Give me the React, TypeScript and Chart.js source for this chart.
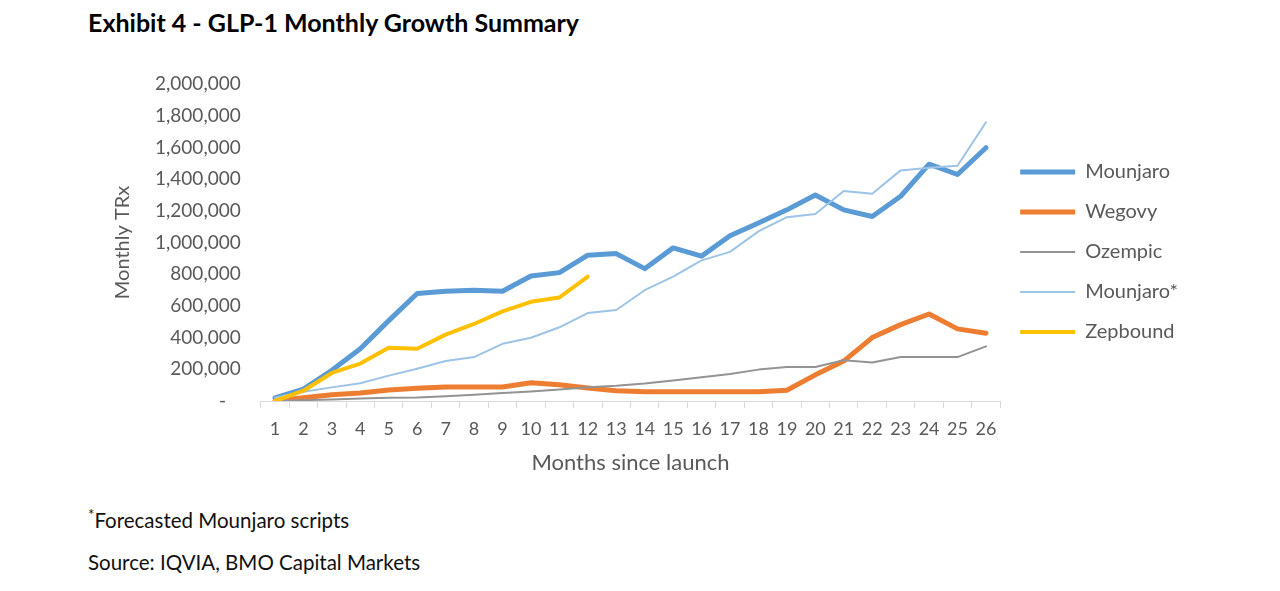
import React, { useEffect, useRef } from 'react';
import { Chart, registerables } from 'chart.js';

Chart.register(...registerables);

const months = ['1','2','3','4','5','6','7','8','9','10','11','12','13','14','15','16','17','18','19','20','21','22','23','24','25','26'];

const mounjaro = [20000, 75000, 194000, 330000, 507000, 678000, 692000, 699000, 692000, 789000, 810000, 920000, 930000, 835000, 966000, 914000, 1043000, 1123000, 1206000, 1300000, 1206000, 1164000, 1292000, 1494000, 1429000, 1598000];
const wegovy = [0, 20000, 40000, 50000, 70000, 80000, 88000, 88000, 88000, 115000, 103000, 82000, 65000, 58000, 58000, 58000, 58000, 58000, 68000, 165000, 252000, 400000, 482000, 549000, 455000, 428000];
const ozempic = [0, 5000, 10000, 15000, 20000, 22000, 30000, 40000, 50000, 60000, 72000, 86000, 96000, 110000, 130000, 150000, 170000, 198000, 215000, 215000, 257000, 243000, 277000, 277000, 277000, 345000];
const mounjaroForecast = [20000, 58000, 86000, 112000, 160000, 204000, 252000, 277000, 361000, 399000, 465000, 555000, 574000, 699000, 785000, 887000, 941000, 1070000, 1160000, 1180000, 1325000, 1308000, 1455000, 1471000, 1484000, 1759000];
const zepbound = [0, 65000, 177000, 236000, 336000, 330000, 419000, 486000, 565000, 626000, 653000, 785000];

const seriesNames = ['Mounjaro', 'Wegovy', 'Ozempic', 'Mounjaro*', 'Zepbound'];
const seriesColors = ['#5B9BD5', '#ED7D31', '#939393', '#9DC3E6', '#FFC000'];
const seriesWidths = [5, 5, 2, 2, 4];

const yMin = 0;
const yMax = 2000000;
const yStep = 200000;

const titleText = 'Exhibit 4 - GLP-1 Monthly Growth Summary';
const yAxisTitle = 'Monthly TRx';
const xAxisTitle = 'Months since launch';
const footnote = 'Forecasted Mounjaro scripts';
const sourceText = 'Source: IQVIA, BMO Capital Markets';

const FONT = 'Lato';
const TEXT_GRAY = '#595959';

export default function App() {
  const canvasRef = useRef<HTMLCanvasElement | null>(null);

  useEffect(() => {
    if (!canvasRef.current) return;
    const values = [mounjaro, wegovy, ozempic, mounjaroForecast, zepbound];
    const chart = new Chart(canvasRef.current, {
      type: 'line',
      data: {
        labels: months,
        datasets: values.map((d, i) => ({
          label: seriesNames[i],
          data: d,
          borderColor: seriesColors[i],
          backgroundColor: seriesColors[i],
          borderWidth: seriesWidths[i],
          pointRadius: 0,
          pointHoverRadius: 0,
          tension: 0,
          fill: false,
          borderJoinStyle: 'round' as const,
          borderCapStyle: 'round' as const,
          order: 5 - i,
        })),
      },
      options: {
        animation: false,
        responsive: true,
        maintainAspectRatio: false,
        layout: { padding: { top: 36, bottom: 16, left: 111, right: 92 } },
        plugins: {
          tooltip: { enabled: false },
          legend: {
            position: 'right',
            fullSize: false,
            title: { display: true, text: '', font: { size: 10, lineHeight: 1.9 }, padding: 0 },
            labels: {
              usePointStyle: true,
              pointStyle: 'line',
              pointStyleWidth: 55,
              padding: 20,
              color: TEXT_GRAY,
              font: { family: FONT, size: 20 },
              sort: (a: any, b: any) => a.datasetIndex - b.datasetIndex,
            },
          },
        },
        scales: {
          x: {
            type: 'category',
            offset: true,
            grid: {
              display: true,
              drawOnChartArea: false,
              drawTicks: true,
              tickLength: 7,
              color: '#D9D9D9',
              offset: true,
            },
            border: { display: true, color: '#D9D9D9', width: 1 },
            ticks: {
              color: TEXT_GRAY,
              font: { family: FONT, size: 18 },
              padding: 10,
              maxRotation: 0,
              autoSkip: false,
            },
            title: {
              display: true,
              text: xAxisTitle,
              color: TEXT_GRAY,
              font: { family: FONT, size: 22 },
              padding: { top: 0, bottom: 0 },
            },
          },
          y: {
            min: yMin,
            max: yMax,
            grid: { display: false, drawTicks: false },
            border: { display: false },
            ticks: {
              stepSize: yStep,
              color: TEXT_GRAY,
              font: { family: FONT, size: 19 },
              padding: 20,
              callback: (v: any) => (Number(v) === 0 ? '-   ' : Number(v).toLocaleString('en-US')),
            },
            title: {
              display: true,
              text: yAxisTitle,
              color: TEXT_GRAY,
              font: { family: FONT, size: 20 },
              padding: { top: 0, bottom: 0 },
            },
          },
        },
      },
    });
    return () => chart.destroy();
  }, []);

  return (
    <div style={{ position: 'fixed', left: 0, top: 0, width: 1280, height: 591, background: '#fff', overflow: 'hidden', fontFamily: FONT }}>
      <div style={{ position: 'absolute', left: 88, top: 7, fontSize: 25, fontWeight: 700, color: '#000', lineHeight: 'normal', whiteSpace: 'nowrap' }}>
        {titleText}
      </div>
      <div style={{ position: 'absolute', left: 0, top: 48, width: 1280, height: 444 }}>
        <canvas ref={canvasRef} />
      </div>
      <div style={{ position: 'absolute', left: 88, top: 508, fontSize: 20.5, color: '#111', lineHeight: 'normal', whiteSpace: 'nowrap' }}>
        <sup style={{ fontSize: 15, verticalAlign: 'top', position: 'relative', top: -3 }}>*</sup>{footnote}
      </div>
      <div style={{ position: 'absolute', left: 88, top: 550, fontSize: 20.5, color: '#111', lineHeight: 'normal', whiteSpace: 'nowrap' }}>
        {sourceText}
      </div>
    </div>
  );
}
